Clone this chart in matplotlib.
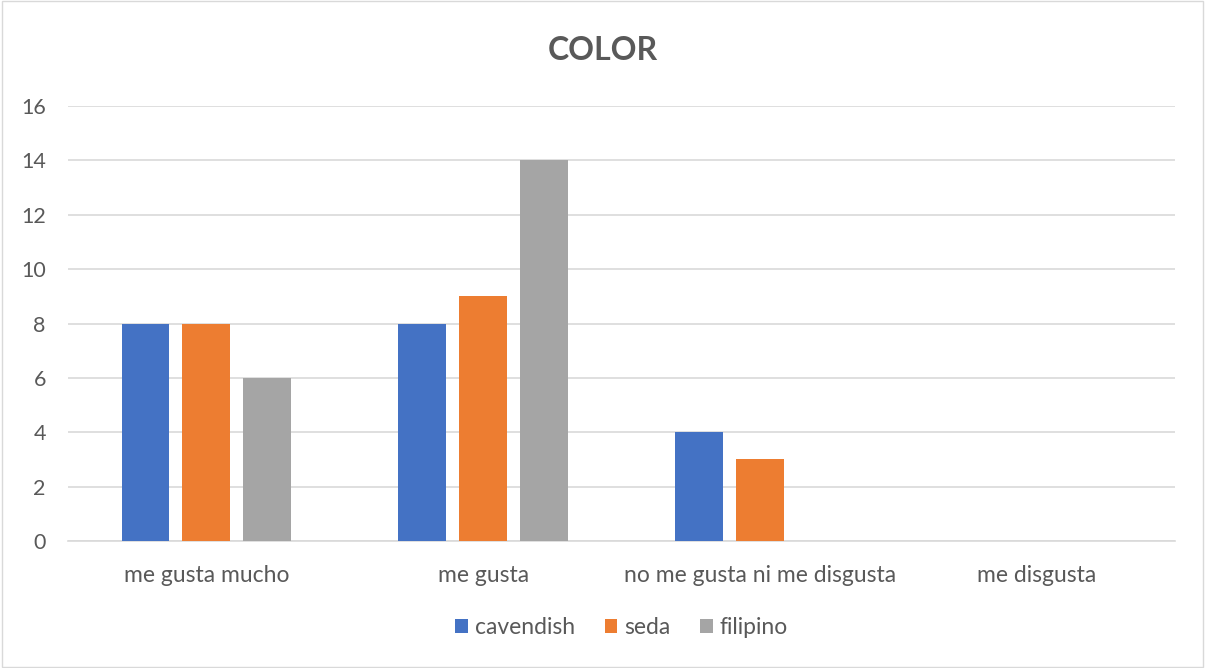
import matplotlib
matplotlib.use("Agg")
import matplotlib.pyplot as plt
import numpy as np

categories = ["me gusta mucho", "me gusta", "no me gusta ni me disgusta", "me disgusta"]
series_names = ["cavendish", "seda", "filipino"]
cavendish = [8, 8, 4, 0]
seda = [8, 9, 3, 0]
filipino = [6, 14, 0, 0]
y_ticks = [0, 2, 4, 6, 8, 10, 12, 14, 16]

colors = ["#4472C4", "#ED7D31", "#A5A5A5"]
text_color = "#595959"

plt.rcParams['font.family'] = ['Lato', 'DejaVu Sans']

fig = plt.figure(figsize=(12.05, 6.68), dpi=100)
ax = fig.add_axes([68 / 1205, 127 / 668, 1107 / 1205, 435 / 668])

x = np.arange(len(categories))
width = 0.173
step = 0.22
for i, (name, vals) in enumerate(zip(series_names, [cavendish, seda, filipino])):
    ax.bar(x + (i - 1) * step, vals, width, color=colors[i], label=name, zorder=3)

ax.set_xlim(-0.5, 3.5)
ax.set_ylim(0, 16)
ax.set_yticks(y_ticks)
ax.set_xticks(x)
ax.set_xticklabels(categories)
ax.grid(axis='y', color="#D9D9D9", linewidth=1.2, zorder=0)
for s in ["top", "right", "left"]:
    ax.spines[s].set_visible(False)
ax.spines["bottom"].set_color("#D9D9D9")
ax.spines["bottom"].set_linewidth(1.2)
ax.tick_params(axis='both', length=0, colors=text_color)
ax.tick_params(axis='y', pad=16, labelsize=15.5)
ax.tick_params(axis='x', pad=17, labelsize=16.5)

fig.text(0.5, 1 - 50 / 668, "COLOR", ha='center', va='center', fontsize=23,
         fontweight='bold', color=text_color)

ax.legend(loc='center', bbox_to_anchor=(0.5, (541 - 628) / 435),
          ncol=3, frameon=False, fontsize=16.5, labelcolor=text_color,
          handlelength=0.55, handleheight=0.55, handletextpad=0.3, columnspacing=1.3)

border = plt.Rectangle((0.002, 0.002), 0.996, 0.996, transform=fig.transFigure,
                       fill=False, edgecolor="#D9D9D9", linewidth=1)
fig.patches.append(border)

fig.savefig("out.png", dpi=100)
